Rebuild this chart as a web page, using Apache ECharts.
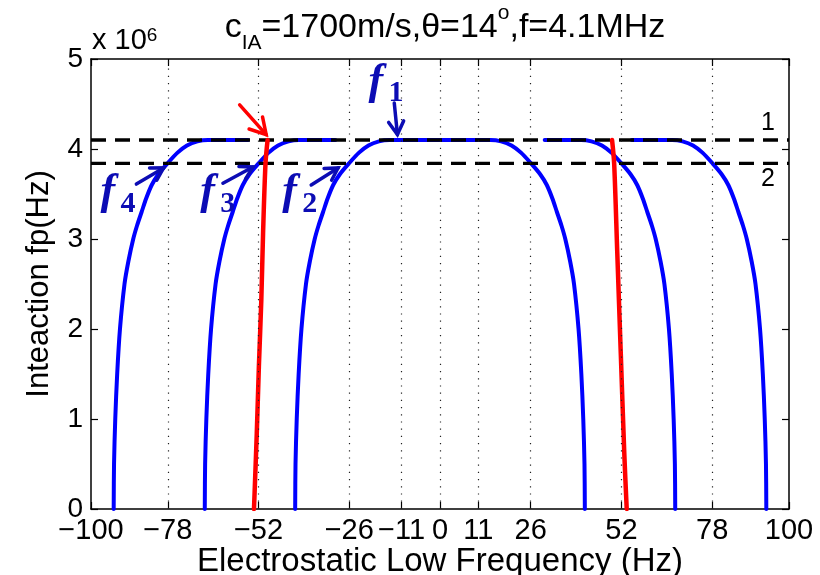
<!DOCTYPE html>
<html>
<head>
<meta charset="utf-8">
<script src="https://cdn.jsdelivr.net/npm/echarts@6/dist/echarts.min.js"></script>
<style>
  html, body { margin: 0; padding: 0; background: #ffffff; }
  #chart { width: 820px; height: 575px; }
</style>
</head>
<body>
<div id="chart"></div>
<script>
// Axis ticks
const xTicks = [-100, -78, -52, -26, -11, 0, 11, 26, 52, 78, 100];
const yTicks = [0, 1, 2, 3, 4, 5];

// Threshold levels (x 10^6 Hz)
const level1 = 4.1;
const level2 = 3.84;
const levelX = [-100, 100];

// f2 branch: one arch
const f2X = [-41.5, -41.4, -41.05, -40.5, -39.7, -38.4, -37.3, -35.9, -34.8, -33.5, -32.2, -30.6, -28.7, -26.1, -23.2, -20.5, -17.5, -14.5,
             14.5, 17.5, 20.5, 23.2, 26.1, 28.7, 30.6, 32.2, 33.5, 34.8, 35.9, 37.3, 38.4, 39.7, 40.5, 41.05, 41.4, 41.5];
const f2Y = [0, 0.5, 1.0, 1.5, 2.0, 2.5, 2.75, 3.0, 3.15, 3.3, 3.45, 3.6, 3.72, 3.84, 3.96, 4.04, 4.085, 4.1,
             4.1, 4.085, 4.04, 3.96, 3.84, 3.72, 3.6, 3.45, 3.3, 3.15, 3.0, 2.75, 2.5, 2.0, 1.5, 1.0, 0.5, 0];

// f3 branch: left and right pieces
const f3LeftX  = [-67.4, -67.3, -66.95, -66.4, -65.6, -64.3, -63.2, -61.8, -60.7, -59.4, -58.1, -56.5, -54.6, -52.0, -49.1, -46.4, -43.4, -40.4, -30.0];
const f3LeftY  = [0, 0.5, 1.0, 1.5, 2.0, 2.5, 2.75, 3.0, 3.15, 3.3, 3.45, 3.6, 3.72, 3.84, 3.96, 4.04, 4.085, 4.1, 4.1];
const f3RightX = [30.0, 40.4, 43.4, 46.4, 49.1, 52.0, 54.6, 56.5, 58.1, 59.4, 60.7, 61.8, 63.2, 64.3, 65.6, 66.4, 66.95, 67.3, 67.4];
const f3RightY = [4.1, 4.1, 4.085, 4.04, 3.96, 3.84, 3.72, 3.6, 3.45, 3.3, 3.15, 3.0, 2.75, 2.5, 2.0, 1.5, 1.0, 0.5, 0];

// f4 branch: left and right pieces
const f4LeftX  = [-93.5, -93.4, -93.05, -92.5, -91.7, -90.4, -89.3, -87.9, -86.8, -85.5, -84.2, -82.6, -80.7, -78.1, -75.2, -72.5, -69.5, -66.5, -55.0];
const f4LeftY  = [0, 0.5, 1.0, 1.5, 2.0, 2.5, 2.75, 3.0, 3.15, 3.3, 3.45, 3.6, 3.72, 3.84, 3.96, 4.04, 4.085, 4.1, 4.1];
const f4RightX = [55.0, 66.5, 69.5, 72.5, 75.2, 78.1, 80.7, 82.6, 84.2, 85.5, 86.8, 87.9, 89.3, 90.4, 91.7, 92.5, 93.05, 93.4, 93.5];
const f4RightY = [4.1, 4.1, 4.085, 4.04, 3.96, 3.84, 3.72, 3.6, 3.45, 3.3, 3.15, 3.0, 2.75, 2.5, 2.0, 1.5, 1.0, 0.5, 0];

// Resonance lines (red)
const redLeftX  = [-53.3, -52.5, -51.9, -51.2, -50.7, -50.0, -49.4];
const redLeftY  = [0, 0.84, 1.58, 2.32, 3.06, 3.84, 4.1];
const redRightX = [53.5, 52.8, 51.8, 50.8, 49.9, 49.3];
const redRightY = [0, 0.62, 1.73, 2.84, 3.84, 4.1];

const BLUE = '#0000ff';
const RED = '#ff0000';
const NOTE_BLUE = '#0c0cb4';
const SANS = 'Liberation Sans, Arial, sans-serif';
const SERIF = 'Liberation Serif, Times New Roman, serif';

const zip = (xs, ys) => xs.map((x, i) => [x, ys[i]]);
const fmtTick = v => (v < 0 ? '\u2212' + Math.abs(v) : String(v));

function curve(name, xs, ys, color, width, z) {
  return {
    name, type: 'line', data: zip(xs, ys), showSymbol: false, symbol: 'none',
    smooth: 0.3, z,
    lineStyle: { color, width, cap: 'round', join: 'round' }
  };
}

function levelLine(name, y) {
  return {
    name, type: 'line', data: zip(levelX, [y, y]), showSymbol: false, symbol: 'none', z: 3,
    lineStyle: { color: '#000', width: 3.4, type: [15, 9] }
  };
}

const chart = echarts.init(document.getElementById('chart'), null, { renderer: 'canvas' });

const option = {
  animation: false,
  backgroundColor: '#ffffff',
  grid: { left: 91, right: 31, top: 59, bottom: 66, containLabel: false, outerBoundsMode: 'none' },
  title: {
    left: 440, top: -2, textAlign: 'center',
    text: '{t|c}{sub|IA}{t|=1700m/s,\u03b8=14}{sup|o}{t|,f=4.1MHz}',
    textStyle: {
      fontWeight: 'normal',
      rich: {
        t:   { fontFamily: SANS, fontWeight: 'normal', fontSize: 34, color: '#000', verticalAlign: 'bottom', lineHeight: 42 },
        sub: { fontFamily: SANS, fontWeight: 'normal', fontSize: 21, color: '#000', verticalAlign: 'bottom', padding: [0, 0, -9, 0], lineHeight: 42 },
        sup: { fontFamily: SANS, fontWeight: 'normal', fontSize: 21, color: '#000', verticalAlign: 'top', lineHeight: 42 }
      }
    }
  },
  xAxis: [
    {
      type: 'value', min: -100, max: 100, position: 'bottom',
      name: 'Electrostatic Low Frequency (Hz)', nameLocation: 'middle', nameGap: 36, nameMoveOverlap: false,
      nameTextStyle: { fontFamily: SANS, fontSize: 33, color: '#000' },
      axisLine: { show: true, onZero: false, lineStyle: { color: '#000', width: 1.5 } },
      axisTick: { show: true, inside: true, length: 7, customValues: xTicks, lineStyle: { color: '#000', width: 1.2 } },
      axisLabel: { show: true, customValues: xTicks, formatter: fmtTick, margin: 7,
                   fontFamily: SANS, fontSize: 29, color: '#000', hideOverlap: false },
      splitLine: { show: false }
    },
    {
      type: 'value', min: -100, max: 100, position: 'top',
      axisLine: { show: true, onZero: false, lineStyle: { color: '#000', width: 1.5 } },
      axisTick: { show: true, inside: true, length: 7, customValues: xTicks, lineStyle: { color: '#000', width: 1.2 } },
      axisLabel: { show: false },
      splitLine: { show: false }
    }
  ],
  yAxis: [
    {
      type: 'value', min: 0, max: 5, interval: 1, position: 'left',
      name: 'Inteaction fp(Hz)', nameLocation: 'middle', nameGap: 36, nameRotate: 90, nameMoveOverlap: false,
      nameTextStyle: { fontFamily: SANS, fontSize: 31, color: '#000' },
      axisLine: { show: true, onZero: false, lineStyle: { color: '#000', width: 1.5 } },
      axisTick: { show: true, inside: true, length: 7, lineStyle: { color: '#000', width: 1.2 } },
      axisLabel: { show: true, margin: 8, fontFamily: SANS, fontSize: 28, color: '#000',
                   customValues: yTicks },
      splitLine: { show: false }
    },
    {
      type: 'value', min: 0, max: 5, interval: 1, position: 'right',
      axisLine: { show: true, onZero: false, lineStyle: { color: '#000', width: 1.5 } },
      axisTick: { show: true, inside: true, length: 7, lineStyle: { color: '#000', width: 1.2 } },
      axisLabel: { show: false },
      splitLine: { show: false }
    }
  ],
  series: [
    {
      name: 'grid', type: 'line', data: [], z: 1, silent: true,
      markLine: {
        silent: true, symbol: 'none', animation: false,
        label: { show: false },
        lineStyle: { color: '#222', width: 1.2, type: [1.2, 6] },
        data: xTicks.filter(v => v > -100 && v < 100).map(v => ({ xAxis: v }))
      }
    },
    curve('f4 left', f4LeftX, f4LeftY, BLUE, 4, 2),
    curve('f4 right', f4RightX, f4RightY, BLUE, 4, 2),
    curve('f3 left', f3LeftX, f3LeftY, BLUE, 4, 2),
    curve('f3 right', f3RightX, f3RightY, BLUE, 4, 2),
    curve('f2', f2X, f2Y, BLUE, 4, 2),
    levelLine('level 1', level1),
    levelLine('level 2', level2),
    curve('resonance left', redLeftX, redLeftY, RED, 4.5, 4),
    curve('resonance right', redRightX, redRightY, RED, 4.5, 4)
  ]
};

chart.setOption(option);

// Annotations placed in data coordinates
const arrows = [
  { from: [-87.0, 3.61], to: [-79.2, 3.79], color: NOTE_BLUE, head: 14 },
  { from: [-62.2, 3.62], to: [-53.6, 3.80], color: NOTE_BLUE, head: 14 },
  { from: [-36.9, 3.60], to: [-29.2, 3.79], color: NOTE_BLUE, head: 14 },
  { from: [-13.1, 4.51], to: [-12.2, 4.16], color: NOTE_BLUE, head: 15 },
  { from: [-57.4, 4.49], to: [-49.8, 4.16], color: RED, head: 18 }
];
const fLabels = [
  { at: [-97.3, 3.29], sub: '4' },
  { at: [-68.7, 3.29], sub: '3' },
  { at: [-45.2, 3.29], sub: '2' },
  { at: [-20.5, 4.52], sub: '1' }
];
const levelTags = [
  { at: [94, 4.29], text: '1' },
  { at: [94, 3.66], text: '2' }
];
const unitTag = { at: [-100, 5], text: '{a|x 10}{b|6}' };

const px = p => chart.convertToPixel({ xAxisIndex: 0, yAxisIndex: 0 }, p);
const graphics = [];

arrows.forEach(a => {
  const s = px(a.from), t = px(a.to);
  const ang = Math.atan2(t[1] - s[1], t[0] - s[0]);
  const spread = Math.PI / 6;
  const w1 = [t[0] - a.head * Math.cos(ang - spread), t[1] - a.head * Math.sin(ang - spread)];
  const w2 = [t[0] - a.head * Math.cos(ang + spread), t[1] - a.head * Math.sin(ang + spread)];
  graphics.push({ type: 'polyline', z: 10, shape: { points: [s, t] },
    style: { stroke: a.color, lineWidth: 3.5, lineCap: 'round', fill: null } });
  graphics.push({ type: 'polyline', z: 10, shape: { points: [w1, t, w2] },
    style: { stroke: a.color, lineWidth: 3.5, lineCap: 'round', lineJoin: 'miter', fill: null } });
});

fLabels.forEach(l => {
  const p = px(l.at);
  graphics.push({ type: 'text', z: 10, x: p[0], y: p[1] + 2,
    style: { text: 'f', fill: NOTE_BLUE, font: 'italic bold 44px ' + SERIF,
             textAlign: 'left', textVerticalAlign: 'bottom' } });
  graphics.push({ type: 'text', z: 10, x: p[0] + 20, y: p[1] + 6,
    style: { text: l.sub, fill: NOTE_BLUE, font: 'bold 30px ' + SERIF,
             textAlign: 'left', textVerticalAlign: 'bottom' } });
});

levelTags.forEach(l => {
  const p = px(l.at);
  graphics.push({ type: 'text', z: 10, x: p[0], y: p[1],
    style: { text: l.text, fill: '#000', font: '25px ' + SANS, textAlign: 'center', textVerticalAlign: 'middle' } });
});

{
  const p = px(unitTag.at);
  graphics.push({ type: 'text', z: 10, x: p[0] + 1, y: p[1] - 4,
    style: { text: unitTag.text, textAlign: 'left', textVerticalAlign: 'bottom',
             rich: {
               a: { fontFamily: SANS, fontSize: 29, fill: '#000', verticalAlign: 'bottom' },
               b: { fontFamily: SANS, fontSize: 19, fill: '#000', verticalAlign: 'top' }
             } } });
}

chart.setOption({ graphic: graphics });
</script>
</body>
</html>
